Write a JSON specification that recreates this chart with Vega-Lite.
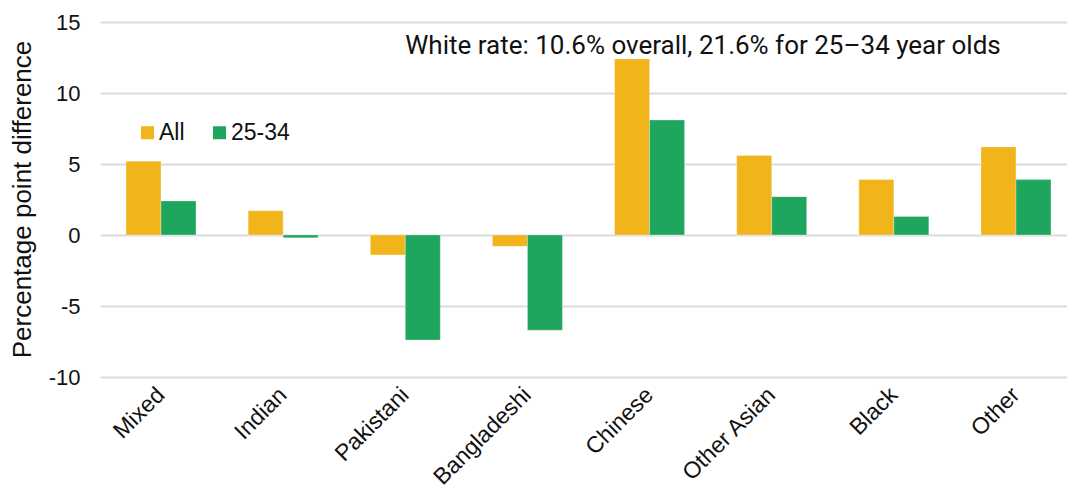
{
  "$schema": "https://vega.github.io/schema/vega-lite/v6.json",
  "width": 963,
  "height": 355,
  "autosize": {"type": "none"},
  "padding": {"left": 100, "top": 22, "right": 4, "bottom": 119},
  "background": "#ffffff",
  "config": {
    "view": {"stroke": null},
    "font": "Liberation Sans",
    "axis": {"labelFont": "Liberation Sans", "titleFont": "Liberation Sans", "labelColor": "#111111", "titleColor": "#111111"},
    "legend": {"labelFont": "Liberation Sans"}
  },
  "data": {
    "values": [
      {"group": "Mixed", "age": "All", "value": 5.2},
      {"group": "Mixed", "age": "25-34", "value": 2.4},
      {"group": "Indian", "age": "All", "value": 1.7},
      {"group": "Indian", "age": "25-34", "value": -0.2},
      {"group": "Pakistani", "age": "All", "value": -1.4},
      {"group": "Pakistani", "age": "25-34", "value": -7.4},
      {"group": "Bangladeshi", "age": "All", "value": -0.8},
      {"group": "Bangladeshi", "age": "25-34", "value": -6.7},
      {"group": "Chinese", "age": "All", "value": 12.4},
      {"group": "Chinese", "age": "25-34", "value": 8.1},
      {"group": "Other Asian", "age": "All", "value": 5.6},
      {"group": "Other Asian", "age": "25-34", "value": 2.7},
      {"group": "Black", "age": "All", "value": 3.9},
      {"group": "Black", "age": "25-34", "value": 1.3},
      {"group": "Other", "age": "All", "value": 6.2},
      {"group": "Other", "age": "25-34", "value": 3.9}
    ]
  },
  "layer": [
    {
      "mark": {"type": "bar", "stroke": "#ffffff", "strokeWidth": 0.6, "strokeOpacity": 0.5},
      "encoding": {
        "x": {
          "field": "group",
          "type": "nominal",
          "sort": null,
          "scale": {"range": [0, 977], "paddingInner": 0.427, "paddingOuter": 0.213},
          "axis": {
            "title": null,
            "labelAngle": -45,
            "labelAlign": "right",
            "labelBaseline": "middle",
            "labelFontSize": 23,
            "labelPadding": 14,
            "ticks": false,
            "domain": false,
            "grid": false
          }
        },
        "y": {
          "field": "value",
          "type": "quantitative",
          "scale": {"domain": [-10, 15], "nice": false, "zero": false},
          "axis": {
            "title": "Percentage point difference",
            "titleFontSize": 26,
            "titleFontWeight": "normal",
            "titleAngle": -90,
            "titleBaseline": "middle",
            "titleAlign": "center",
            "titleX": -78,
            "titleY": 177,
            "values": [-10, -5, 0, 5, 10, 15],
            "labelExpr": "'' + datum.value",
            "labelFontSize": 22,
            "labelPadding": 20,
            "ticks": false,
            "domain": false,
            "grid": true,
            "gridColor": "#dcdcdc",
            "gridWidth": 2
          }
        },
        "xOffset": {"field": "age", "type": "nominal", "sort": ["All", "25-34"], "scale": {"paddingInner": 0, "paddingOuter": 0}},
        "color": {
          "field": "age",
          "type": "nominal",
          "sort": ["All", "25-34"],
          "scale": {"domain": ["All", "25-34"], "range": ["#F1B51B", "#1EA65F"]},
          "legend": {
            "title": null,
            "orient": "none",
            "direction": "horizontal",
            "legendX": 36,
            "legendY": 99,
            "symbolType": "square",
            "symbolSize": 169,
            "symbolStrokeWidth": 0,
            "labelFontSize": 23,
            "labelColor": "#111111",
            "labelOffset": 0,
            "columnPadding": 23
          }
        }
      }
    },
    {
      "data": {"values": [{"note": "White rate: 10.6% overall, 21.6% for 25–34 year olds"}]},
      "mark": {"type": "text", "align": "left", "baseline": "middle", "fontSize": 26, "color": "#111111", "font": "Roboto"},
      "encoding": {
        "x": {"datum": "Pakistani", "type": "nominal"},
        "y": {"datum": 13.3, "type": "quantitative"},
        "text": {"field": "note", "type": "nominal"}
      }
    }
  ]
}
